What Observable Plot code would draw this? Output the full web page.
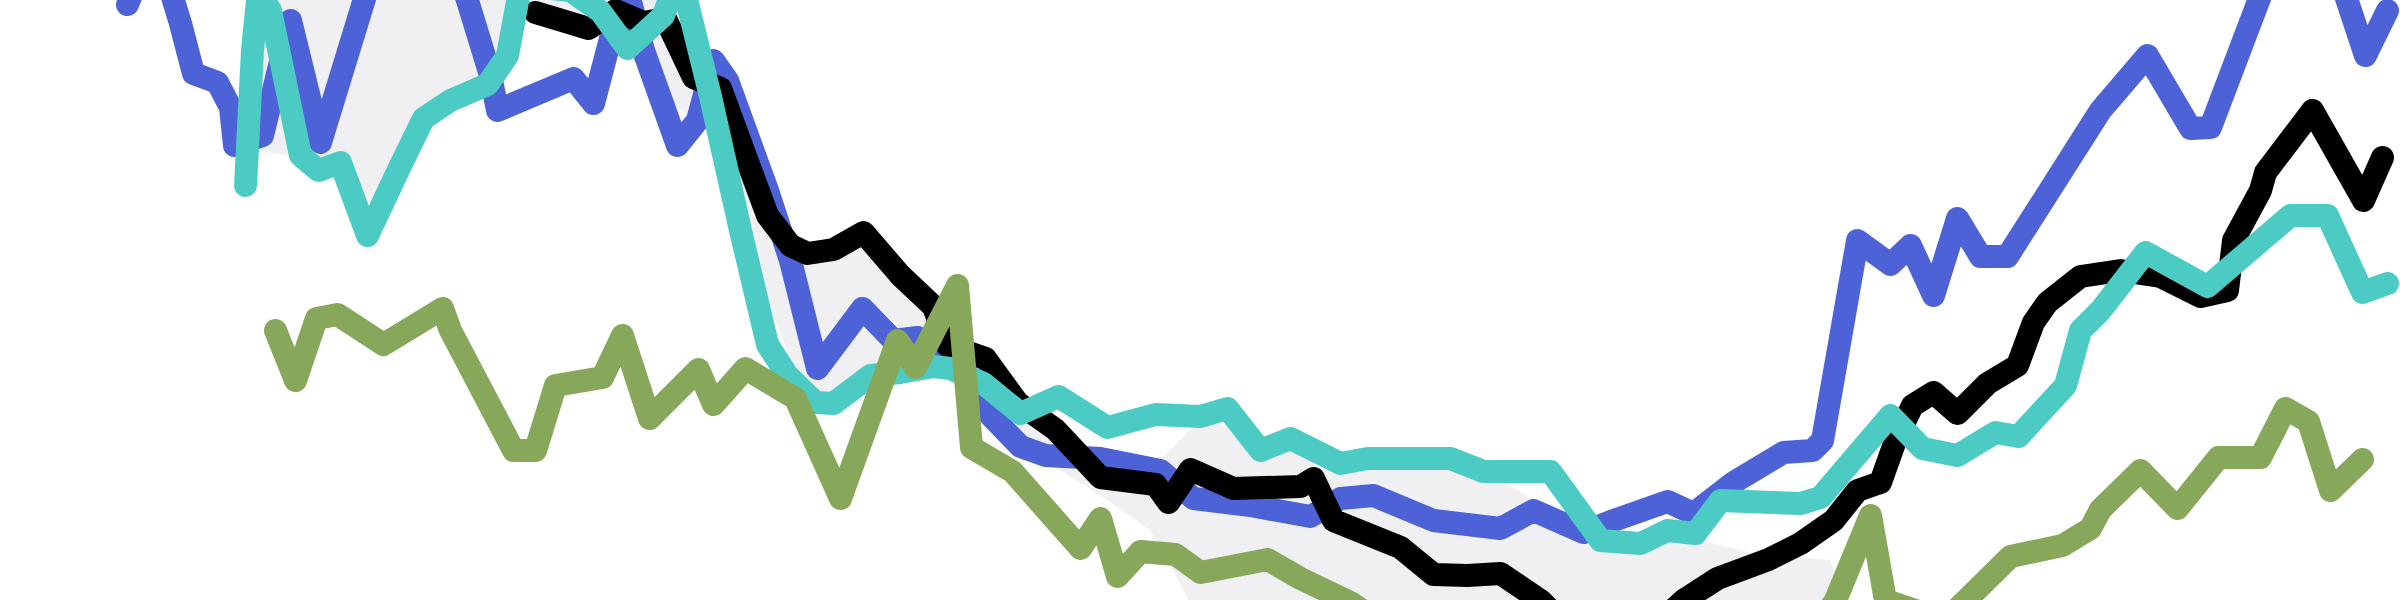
<!DOCTYPE html>
<html>
<head>
<meta charset="utf-8">
<script src="https://cdn.jsdelivr.net/npm/d3@7"></script>
<script src="https://cdn.jsdelivr.net/npm/@observablehq/plot@0.6"></script>
<style>
  html, body { margin: 0; padding: 0; background: #fff; overflow: hidden; }
  #chart svg { display: block; }
</style>
</head>
<body>
<div id="chart"></div>
<script>
// time positions and levels (level axis grows downward)
const blueT = [127,147,170,180,193,217,230,234,262,290,320,365,390,450,467,490,497,573,593,610,627,643,677,697,713,727,767,790,817,862,893,917,950,990,1020,1045,1100,1160,1193,1250,1310,1340,1373,1433,1500,1533,1583,1613,1667,1693,1733,1783,1812,1822,1857,1890,1910,1933,1957,1980,2007,2100,2147,2190,2210,2262,2300,2340,2365,2387];
const blueV = [4,-45,-10,23,73,82,107,145,135,20,142,-5,-50,-50,0,75,110,78,103,38,-10,50,145,120,60,80,190,260,368,308,340,337,355,415,446,455,458,470,498,505,516,498,495,520,528,510,532,520,501,513,482,452,450,440,240,264,245,295,218,256,256,110,55,128,127,-10,-60,-20,55,10];

const blackT = [535,588,615,643,665,693,720,767,790,807,833,863,900,933,947,985,1017,1055,1100,1155,1168,1190,1233,1300,1313,1333,1400,1433,1467,1500,1540,1570,1650,1683,1717,1768,1800,1833,1857,1880,1895,1912,1933,1957,1987,2017,2033,2047,2080,2120,2160,2200,2227,2233,2260,2265,2312,2363,2382];
const blackV = [12,28,10,22,18,77,88,215,245,253,249,232,275,306,345,358,402,429,477,484,502,469,488,486,478,520,547,574,575,573,600,630,630,600,578,559,543,520,490,482,440,405,392,413,383,365,322,302,276,270,276,296,290,240,190,172,110,200,157];

const cyanT = [245,252,258,270,300,318,340,367,400,423,450,487,507,520,570,600,627,663,672,685,710,740,767,787,815,833,870,900,933,950,983,1020,1058,1107,1155,1200,1227,1260,1290,1340,1367,1450,1483,1550,1600,1640,1667,1695,1720,1800,1820,1890,1922,1957,1995,2018,2065,2080,2100,2145,2207,2290,2327,2362,2387];
const cyanV = [185,50,-10,10,155,170,162,235,165,118,100,84,55,-15,-10,11,48,15,-10,-5,96,230,344,375,402,403,375,372,366,368,383,413,396,427,414,416,408,450,438,463,458,458,471,471,540,543,530,533,500,503,497,415,448,455,432,436,385,330,310,252,286,215,215,292,283];

const greenT = [275,295,316,337,383,442,450,513,535,555,602,622,649,698,713,745,795,840,897,915,957,971,1012,1080,1100,1117,1140,1175,1200,1267,1300,1350,1420,1600,1800,1835,1870,1885,1945,2010,2062,2090,2100,2140,2177,2218,2260,2285,2308,2330,2362];
const greenV = [330,380,318,314,344,308,330,450,450,385,377,335,418,369,404,368,398,498,340,367,285,447,471,548,518,576,551,554,572,559,578,602,650,660,650,600,515,600,620,556,545,528,509,470,508,457,457,408,421,490,459];

const bandT    = [255,300,340,367,400,423,460,490,510,530,590,640,667,693,720,767,800,840,870,900,950,1000,1060,1100,1150,1200,1300,1400,1500,1600,1700,1760,1830,1845];
const bandLow  = [-60,-60,-60,-60,-60,-60,-60,-60,-60,-60,-60,-60,18,75,90,215,250,250,232,280,350,385,420,460,470,420,445,462,480,540,540,555,560,600];
const bandHigh = [150,158,168,205,160,120,95,80,35,15,22,25,100,118,130,300,380,410,385,335,372,440,470,495,530,620,640,640,640,640,640,640,640,640];

const series = [
  {name: "s1", color: "#4c62d6", t: blueT, v: blueV},
  {name: "s2", color: "#000000", t: blackT, v: blackV},
  {name: "s3", color: "#4ccbc4", t: cyanT, v: cyanV},
  {name: "s4", color: "#87a85a", t: greenT, v: greenV}
];
const rows = series.flatMap(s => s.t.map((t, i) => ({series: s.name, t, v: s.v[i]})));
const band = bandT.map((t, i) => ({t, lo: bandLow[i], hi: bandHigh[i]}));

const chart = Plot.plot({
  width: 2400,
  height: 600,
  margin: 0,
  style: {maxWidth: "none"},
  x: {domain: [0, 2400], axis: null},
  y: {domain: [0, 600], reverse: true, axis: null},
  color: {domain: series.map(s => s.name), range: series.map(s => s.color)},
  marks: [
    Plot.areaY(band, {x: "t", y1: "lo", y2: "hi", fill: "#f0f0f3", clip: true}),
    Plot.line(rows, {x: "t", y: "v", z: "series", stroke: "series", strokeWidth: 23,
      strokeLinejoin: "round", strokeLinecap: "round", clip: true})
  ]
});
document.getElementById("chart").appendChild(chart);
</script>
</body>
</html>
